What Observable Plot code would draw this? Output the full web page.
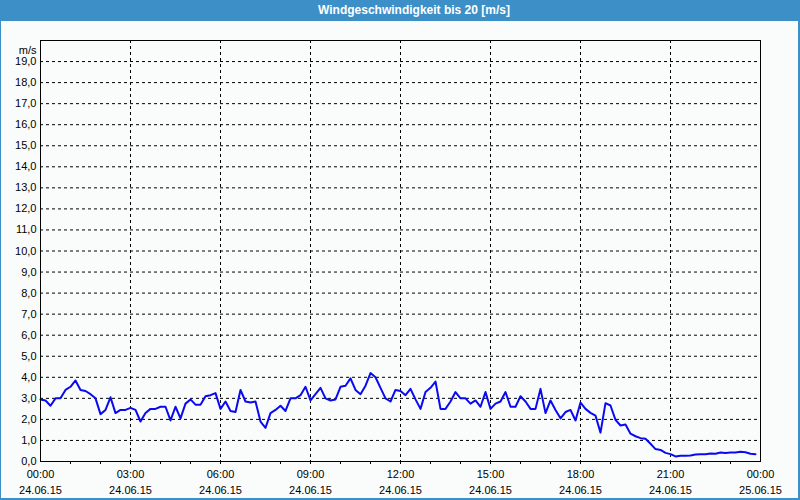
<!DOCTYPE html>
<html>
<head>
<meta charset="utf-8">
<script src="https://cdn.jsdelivr.net/npm/d3@7"></script>
<script src="https://cdn.jsdelivr.net/npm/@observablehq/plot@0.6"></script>
<style>
html, body { margin: 0; padding: 0; background: #ffffff; }
#win { position: relative; width: 800px; height: 500px; background: #fafcfc; overflow: hidden; }
#bar { position: absolute; left: 0; top: 0; width: 800px; height: 21px; background: #3d8fc8; color: #ffffff;
  font: bold 12px "Liberation Sans", Arial, sans-serif; line-height: 21px; text-align: center; padding-left: 28px; box-sizing: border-box; }
.edge { position: absolute; background: #3d8fc8; z-index: 5; }
#chart { position: absolute; left: 0; top: 20px; }
</style>
</head>
<body>
<div id="win">
  <div id="bar">Windgeschwindigkeit bis 20 [m/s]</div>
  <div class="edge" style="left:0;top:0;width:1px;height:500px"></div>
  <div class="edge" style="left:798px;top:0;width:2px;height:500px"></div>
  <div class="edge" style="left:0;top:498px;width:800px;height:2px"></div>
  <div id="chart"></div>
</div>
<script>
// Wind speed readings, every 10 minutes from 24.06.15 00:00 (m/s)
const speeds = [
  2.95, 2.9, 2.65, 3.0, 3.0, 3.4, 3.55, 3.85, 3.4, 3.35, 3.2, 3.0, 2.25, 2.45, 3.05, 2.3, 2.45, 2.45,
  2.55, 2.45, 1.9, 2.3, 2.5, 2.5, 2.6, 2.6, 1.95, 2.6, 2.05, 2.75, 2.95, 2.7, 2.7, 3.1, 3.15, 3.25,
  2.5, 2.85, 2.4, 2.35, 3.4, 2.85, 2.8, 2.85, 1.9, 1.6, 2.3, 2.45, 2.65, 2.4, 3.0, 3.0, 3.15, 3.55,
  2.9, 3.2, 3.5, 3.0, 2.9, 2.95, 3.55, 3.6, 3.95, 3.4, 3.2, 3.6, 4.2, 4.0, 3.5, 3.0, 2.85, 3.4,
  3.35, 3.15, 3.45, 2.95, 2.5, 3.3, 3.5, 3.8, 2.5, 2.5, 2.85, 3.3, 3.0, 3.0, 2.75, 2.9, 2.6, 3.3,
  2.5, 2.75, 2.85, 3.3, 2.6, 2.6, 3.1, 2.85, 2.5, 2.5, 3.45, 2.3, 2.9, 2.45, 2.05, 2.35, 2.45, 1.95,
  2.8, 2.5, 2.31, 2.18, 1.37, 2.77, 2.66, 1.98, 1.71, 1.76, 1.32, 1.2, 1.11, 1.08, 0.84, 0.59, 0.55, 0.41,
  0.35, 0.24, 0.27, 0.27, 0.29, 0.33, 0.35, 0.35, 0.38, 0.37, 0.43, 0.4, 0.43, 0.43, 0.46, 0.44, 0.37, 0.35
];
const startTime = new Date(2015, 5, 24, 0, 0);
const endTime = new Date(2015, 5, 25, 0, 0);
const stepMinutes = 10;
const yTicks = [0, 1, 2, 3, 4, 5, 6, 7, 8, 9, 10, 11, 12, 13, 14, 15, 16, 17, 18, 19];
const yGridLines = [1, 2, 3, 4, 5, 6, 7, 8, 9, 10, 11, 12, 13, 14, 15, 16, 17, 18, 19];
const majorHours = [0, 3, 6, 9, 12, 15, 18, 21, 24];
const gridHours = [3, 6, 9, 12, 15, 18, 21];
const minorHours = d3.range(1, 24);

const data = speeds.map((v, i) => ({ time: d3.timeMinute.offset(startTime, i * stepMinutes), speed: v }));
const atHour = h => d3.timeHour.offset(startTime, h);

const fmtY = d => d.toFixed(1).replace(".", ",");
const fmtTime = d3.timeFormat("%H:%M");
const fmtDate = d3.timeFormat("%d.%m.%y");
const dash = { stroke: "#000", strokeOpacity: 1, strokeWidth: 1, strokeDasharray: "3,3" };

const chart = Plot.plot({
  width: 800,
  height: 480,
  marginLeft: 40,
  marginRight: 40,
  marginTop: 20,
  marginBottom: 39,
  style: { background: "transparent", fontFamily: "'Liberation Sans', Arial, sans-serif", fontSize: "11px", color: "#000", overflow: "visible" },
  x: { type: "time", domain: [startTime, endTime] },
  y: { domain: [0, 20] },
  marks: [
    Plot.gridY(yGridLines, dash),
    Plot.gridX(gridHours.map(atHour), dash),
    Plot.axisY(yTicks, { tickSize: 0, tickPadding: 4, tickFormat: fmtY, label: null }),
    Plot.axisX(minorHours.map(atHour), { tickSize: 3, tickFormat: () => "", label: null }),
    Plot.axisX(majorHours.map(atHour), { tickSize: 0, tickPadding: 9, tickFormat: fmtTime, label: null }),
    Plot.axisX(majorHours.map(atHour), { tickSize: 0, tickPadding: 25, tickFormat: fmtDate, label: null }),
    Plot.line(data, { x: "time", y: "speed", stroke: "#0a0af0", strokeWidth: 2 }),
    Plot.frame({ stroke: "#000" }),
    Plot.text(["m/s"], { frameAnchor: "top-left", dx: -4, dy: 6, textAnchor: "end", fill: "#000" })
  ]
});
document.getElementById("chart").appendChild(chart);
</script>
</body>
</html>
